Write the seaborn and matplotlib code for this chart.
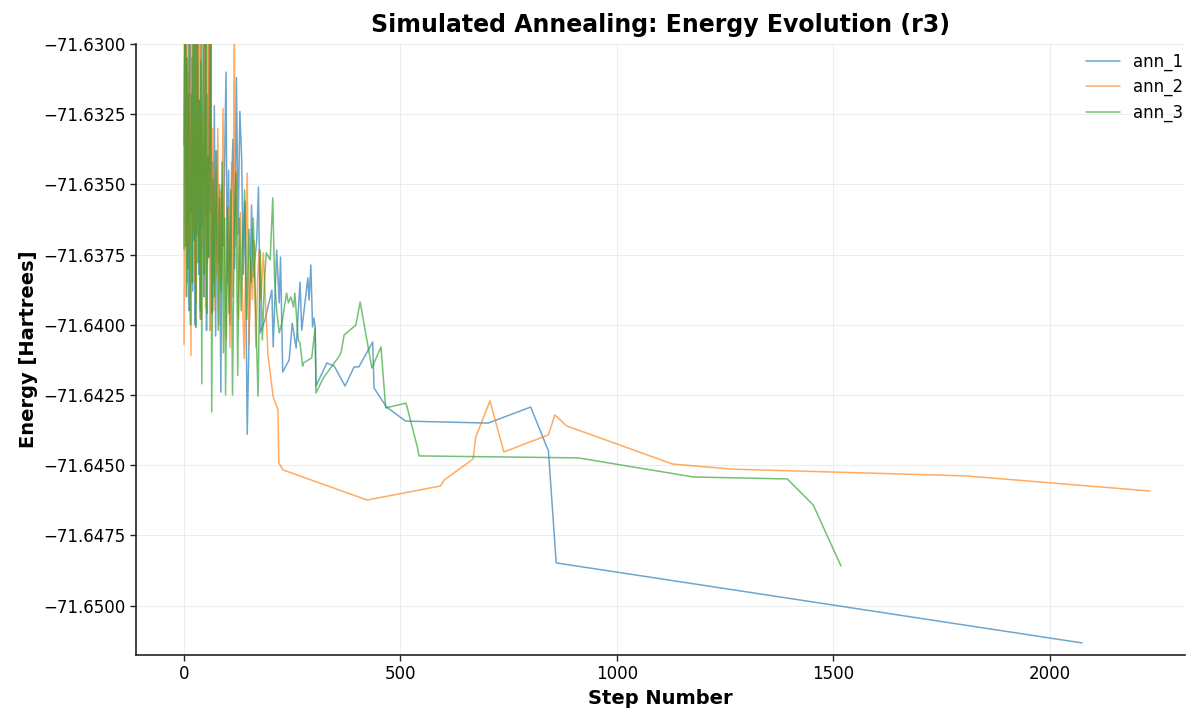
import numpy as np
import pandas as pd
import matplotlib
matplotlib.use("Agg")
import matplotlib.pyplot as plt
import matplotlib.ticker as mticker
import seaborn as sns

# ---- energy traces of three annealing runs (step, Hartree) ----
ann1_step = [0, 2, 4, 6, 8, 10, 12, 14, 16, 18, 20, 22, 24, 26, 28, 30, 32, 34, 36, 38,
             40, 42, 44, 46, 48, 50, 52, 54, 56, 58, 60, 62, 64, 66, 68, 70, 73, 76, 79,
             82, 85, 88, 91, 94, 97, 100, 103, 106, 109, 113, 117, 121, 125, 129, 133,
             137, 141, 146, 156, 160, 168, 172, 176, 187, 203, 206, 214, 220, 223, 228,
             243, 250, 259, 268, 272, 282, 286, 289, 293, 297, 300, 303, 305, 330, 347,
             372, 393, 404, 436, 439, 468, 512, 703, 801, 842, 860, 2075]
ann1_energy = [-71.6336, -71.6290, -71.6372, -71.6292, -71.6385, -71.6318, -71.6395,
               -71.6290, -71.6360, -71.6305, -71.6388, -71.6293, -71.6350, -71.6400,
               -71.6296, -71.6368, -71.6290, -71.6382, -71.6320, -71.6398, -71.6292,
               -71.6365, -71.6336, -71.6390, -71.6292, -71.6352, -71.6402, -71.6318,
               -71.6376, -71.6290, -71.6360, -71.6290, -71.6396, -71.6342, -71.6385,
               -71.6322, -71.6404, -71.6338, -71.6378, -71.6355, -71.6424, -71.6350,
               -71.6372, -71.6340, -71.6310, -71.6385, -71.6345, -71.6400, -71.6355,
               -71.6334, -71.6380, -71.6312, -71.6368, -71.6324, -71.6340, -71.6382,
               -71.6356, -71.6439, -71.63573, -71.63830, -71.63698, -71.63509, -71.64029,
               -71.63983, -71.63876, -71.64079, -71.63734, -71.63922, -71.63759, -71.64168,
               -71.64125, -71.63994, -71.64083, -71.63848, -71.64019, -71.63887, -71.63833,
               -71.63912, -71.63787, -71.64008, -71.63976, -71.64008, -71.64218, -71.64136,
               -71.64147, -71.64218, -71.64150, -71.64150, -71.64061, -71.64225, -71.64293,
               -71.64343, -71.64350, -71.64293, -71.64449, -71.64848, -71.65133]

ann2_step = [0, 1, 3, 5, 7, 9, 11, 13, 16, 18, 20, 22, 24, 26, 28, 30, 32, 34, 36, 38,
             40, 42, 44, 46, 48, 50, 52, 54, 56, 58, 60, 62, 64, 66, 69, 72, 75, 78, 81,
             84, 87, 90, 94, 98, 102, 106, 110, 113, 116, 119, 122, 126, 130, 134, 139,
             143, 146, 150, 154, 158, 162, 166, 170, 174, 178, 183, 194, 206, 217, 219,
             229, 423, 593, 601, 668, 674, 707, 739, 842, 857, 884, 1129, 1266, 1805, 2232]
ann2_energy = [-71.6407, -71.6290, -71.6362, -71.6292, -71.6390, -71.6310, -71.6372,
               -71.6290, -71.6411, -71.6300, -71.6366, -71.6290, -71.6385, -71.6328,
               -71.6392, -71.6290, -71.6356, -71.6298, -71.6380, -71.6290, -71.6398,
               -71.6326, -71.6372, -71.6290, -71.6362, -71.6394, -71.6300, -71.6378,
               -71.6292, -71.6350, -71.6402, -71.6296, -71.6368, -71.6330, -71.6395,
               -71.6345, -71.6382, -71.6330, -71.6400, -71.6352, -71.6385, -71.6323,
               -71.6376, -71.6405, -71.6358, -71.6408, -71.6342, -71.6390, -71.6290,
               -71.6372, -71.6345, -71.6398, -71.6360, -71.6385, -71.6412, -71.6370,
               -71.6346, -71.6407, -71.6377, -71.6391, -71.6370, -71.6408, -71.6384,
               -71.6373, -71.6391, -71.63744, -71.64108, -71.64257, -71.64303, -71.64492,
               -71.64517, -71.64624, -71.64574, -71.64553, -71.64478, -71.64400, -71.64271,
               -71.64453, -71.64392, -71.64321, -71.64360, -71.64496, -71.64514, -71.64538,
               -71.64592]

ann3_step = [0, 1, 3, 5, 7, 9, 11, 13, 15, 17, 19, 21, 23, 25, 27, 29, 31, 33, 35, 37,
             39, 41, 43, 45, 47, 49, 51, 53, 55, 57, 59, 61, 64, 67, 70, 73, 76, 79, 82,
             85, 88, 91, 94, 96, 100, 104, 108, 112, 116, 120, 124, 128, 132, 136, 140,
             145, 150, 155, 160, 165, 171, 176, 181, 186, 190, 199, 205, 209, 214, 220,
             226, 237, 241, 247, 253, 256, 264, 268, 274, 276, 295, 303, 305, 322, 359,
             363, 370, 397, 407, 434, 455, 466, 513, 539, 543, 911, 1177, 1394, 1454, 1518]
ann3_energy = [-71.6373, -71.6311, -71.6290, -71.6390, -71.6305, -71.6380, -71.6292,
               -71.6362, -71.6400, -71.6318, -71.6385, -71.6290, -71.6370, -71.6298,
               -71.6401, -71.6336, -71.6290, -71.6378, -71.6320, -71.6395, -71.6306,
               -71.6421, -71.6330, -71.6290, -71.6382, -71.6345, -71.6298, -71.6396,
               -71.6340, -71.6376, -71.6325, -71.6292, -71.6431, -71.6348, -71.6390,
               -71.6338, -71.6372, -71.6402, -71.6350, -71.6388, -71.6342, -71.6410,
               -71.6362, -71.6425, -71.6358, -71.6396, -71.6352, -71.6425, -71.6366,
               -71.6346, -71.6418, -71.6362, -71.6395, -71.6370, -71.6352, -71.6398,
               -71.6366, -71.6385, -71.6362, -71.6392, -71.64254, -71.63734, -71.64054,
               -71.63840, -71.63744, -71.63769, -71.63548, -71.63830, -71.63947, -71.64029,
               -71.63994, -71.63887, -71.63922, -71.63901, -71.63937, -71.63887, -71.64054,
               -71.64065, -71.64147, -71.64136, -71.64118, -71.64011, -71.64243, -71.64189,
               -71.64111, -71.64097, -71.64036, -71.64001, -71.63919, -71.64154, -71.64079,
               -71.64296, -71.64279, -71.64435, -71.64467, -71.64474, -71.64542, -71.64549,
               -71.64642, -71.64859]

run_names = ["ann_1", "ann_2", "ann_3"]

frames = []
for name, st, en in zip(run_names,
                        [ann1_step, ann2_step, ann3_step],
                        [ann1_energy, ann2_energy, ann3_energy]):
    frames.append(pd.DataFrame({"step": st, "energy": en, "run": name}))
df = pd.concat(frames, ignore_index=True)

sns.set_style("ticks")
plt.rcParams["font.family"] = ["DejaVu Sans"]
plt.rcParams.update({"text.color": "black", "axes.labelcolor": "black",
                     "xtick.color": "black", "ytick.color": "black"})

fig = plt.figure(figsize=(11.86, 7.08), dpi=100)
ax = fig.add_axes([136 / 1186, 1 - 655 / 708, (1185 - 136) / 1186, (655 - 44) / 708])

sns.lineplot(data=df, x="step", y="energy", hue="run", hue_order=run_names,
             palette=["#1f77b4", "#ff7f0e", "#2ca02c"], estimator=None,
             sort=False, linewidth=1.1, alpha=0.65, ax=ax)

ax.set_xlim(-111, 2313)
ax.set_ylim(-71.65176, -71.6300)
ax.yaxis.set_major_locator(mticker.MultipleLocator(0.0025))
ax.yaxis.set_major_formatter(mticker.FuncFormatter(lambda v, p: f"{v:.4f}".replace("-", "\u2212")))
ax.xaxis.set_major_locator(mticker.MultipleLocator(500))

ax.grid(True, color="#dddddd", alpha=0.5, linewidth=0.8)
sns.despine(ax=ax)
for side in ("left", "bottom"):
    ax.spines[side].set_color("#222222")
    ax.spines[side].set_linewidth(1.2)
ax.tick_params(labelsize=12, length=4, width=1.0, colors="#222222", labelcolor="black")

ax.set_title("Simulated Annealing: Energy Evolution (r3)", fontsize=17, fontweight="bold", pad=9)
ax.set_xlabel("Step Number", fontsize=14, fontweight="bold", labelpad=4)
ax.set_ylabel("Energy [Hartrees]", fontsize=14, fontweight="bold", labelpad=4)

leg = ax.legend(loc="upper right", bbox_to_anchor=(1.006, 1.0), frameon=False,
                fontsize=12, title=None, borderaxespad=0.1, labelspacing=0.45)

fig.savefig("out.png", dpi=100)
